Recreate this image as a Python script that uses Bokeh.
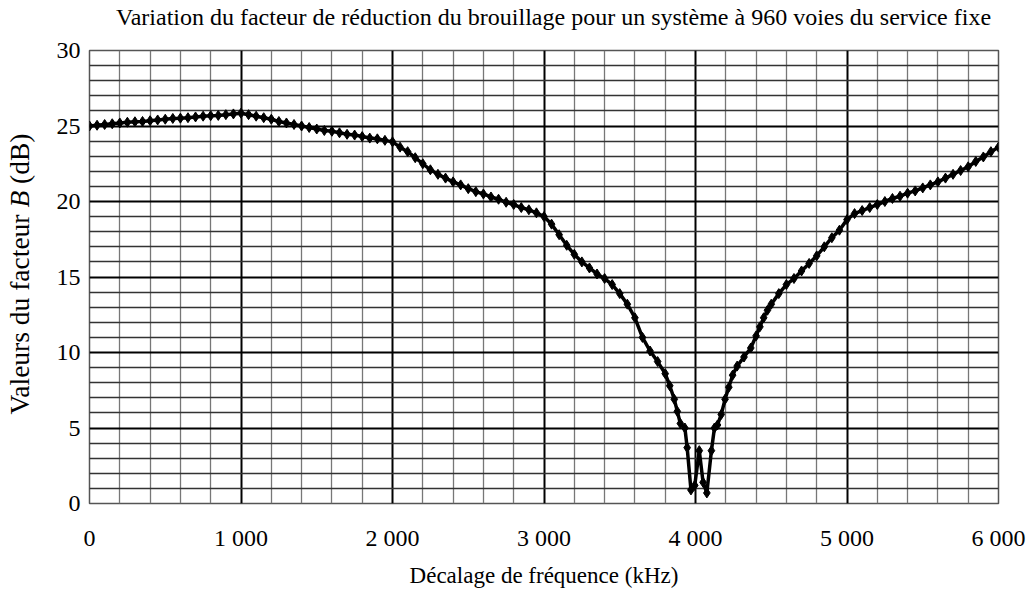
from bokeh.plotting import figure
from bokeh.models import FixedTicker, Range1d, ColumnDataSource, Div
from bokeh.layouts import column, row
from bokeh.embed import file_html
from bokeh.resources import INLINE

# Data (kHz, dB)
freq_khz = [0, 50, 100, 150, 200, 250, 300, 350, 400, 450, 500, 550, 600, 650, 700, 750, 800, 850, 900, 950,
            1000, 1050, 1100, 1150, 1200, 1250, 1300, 1350, 1400, 1450, 1500, 1550, 1600, 1650, 1700, 1750,
            1800, 1850, 1900, 1950, 2000, 2050, 2100, 2150, 2200, 2250, 2300, 2350, 2400, 2450, 2500, 2550,
            2600, 2650, 2700, 2750, 2800, 2850, 2900, 2950, 3000, 3050, 3100, 3150, 3200, 3250, 3300, 3350,
            3400, 3450, 3500, 3550, 3600, 3650, 3700, 3750, 3800, 3830, 3860, 3880, 3900, 3930, 3945, 3970,
            3995, 4025, 4050, 4075, 4105, 4125, 4145, 4170, 4195, 4220, 4245, 4275, 4320, 4365, 4400, 4425,
            4450, 4475, 4500, 4550, 4600, 4650, 4700, 4750, 4800, 4850, 4900, 4950, 5000, 5050, 5100, 5150,
            5200, 5250, 5300, 5350, 5400, 5450, 5500, 5550, 5600, 5650, 5700, 5750, 5800, 5850, 5900, 5950, 6000]
b_db = [25.0, 25.05, 25.1, 25.15, 25.2, 25.25, 25.28, 25.3, 25.35, 25.4, 25.45, 25.5, 25.52, 25.55, 25.6, 25.65,
        25.68, 25.7, 25.75, 25.8, 25.85, 25.75, 25.65, 25.55, 25.45, 25.3, 25.2, 25.1, 25.0, 24.9, 24.8, 24.7,
        24.65, 24.55, 24.45, 24.4, 24.3, 24.2, 24.15, 24.05, 23.95, 23.6, 23.3, 22.9, 22.5, 22.1, 21.8, 21.55,
        21.3, 21.1, 20.85, 20.65, 20.5, 20.3, 20.15, 19.95, 19.8, 19.6, 19.45, 19.25, 19.0, 18.5, 17.8, 17.1,
        16.5, 16.0, 15.6, 15.2, 14.9, 14.5, 13.9, 13.2, 12.3, 11.0, 10.1, 9.4, 8.6, 7.8, 6.9, 6.1, 5.3, 5.0, 3.7,
        0.9, 1.2, 3.5, 1.4, 0.7, 3.5, 5.0, 5.2, 5.9, 6.9, 7.7, 8.5, 9.1, 9.7, 10.3, 11.1, 11.7, 12.3, 12.8, 13.2,
        13.9, 14.5, 14.9, 15.4, 15.9, 16.4, 17.0, 17.6, 18.1, 18.8, 19.2, 19.4, 19.6, 19.8, 20.0, 20.2, 20.35,
        20.55, 20.7, 20.9, 21.1, 21.3, 21.55, 21.8, 22.05, 22.3, 22.65, 22.95, 23.3, 23.6]

x_major = [0, 1000, 2000, 3000, 4000, 5000, 6000]
x_labels = ["0", "1 000", "2 000", "3 000", "4 000", "5 000", "6 000"]
x_minor = [v for v in range(0, 6001, 200) if v % 1000]
y_major = [0, 5, 10, 15, 20, 25, 30]
y_minor = [v for v in range(0, 31) if v % 5]

title = "Variation du facteur de réduction du brouillage pour un système à 960 voies du service fixe"
x_title = "Décalage de fréquence (kHz)"
y_title_html = "Valeurs du facteur <i>B</i> (dB)"

FONT = "Liberation Serif"
W = 1028
TITLE_H = 34
YLAB_W = 40
H = 594 - TITLE_H

title_div = Div(
    text=('<div style="padding-left:116px;font-family:\'Liberation Serif\';'
          'font-size:24px;line-height:34px;color:black;white-space:nowrap;">' + title + '</div>'),
    width=W, height=TITLE_H, margin=(0, 0, 0, 0))

ylab_div = Div(
    text=('<div style="position:absolute;left:20px;top:240px;transform:translate(-50%,-50%) rotate(-90deg);'
          'font-family:\'Liberation Serif\';font-size:27.5px;line-height:30px;color:black;white-space:nowrap;">'
          + y_title_html + '</div>'),
    width=YLAB_W, height=H, margin=(0, 0, 0, 0))

p = figure(width=W - YLAB_W, height=H, x_range=Range1d(0, 6000), y_range=Range1d(0, 30),
           output_backend="svg", toolbar_location=None, margin=(0, 0, 0, 0),
           min_border_left=89 - YLAB_W, min_border_right=30, min_border_top=50 - TITLE_H, min_border_bottom=91)
p.background_fill_color = "white"
p.border_fill_color = "white"
p.outline_line_color = "#555555"
p.outline_line_width = 1.5

# grids
p.xgrid.ticker = FixedTicker(ticks=x_major, minor_ticks=x_minor)
p.ygrid.ticker = FixedTicker(ticks=y_major, minor_ticks=y_minor)
for g in (p.xgrid, p.ygrid):
    g.grid_line_color = "black"
    g.grid_line_width = 2
    g.grid_line_alpha = 1
p.xgrid.minor_grid_line_color = "#777777"
p.xgrid.minor_grid_line_width = 1.3
p.ygrid.minor_grid_line_color = "#333333"
p.ygrid.minor_grid_line_width = 1.3

# axes
p.xaxis.ticker = FixedTicker(ticks=x_major)
p.xaxis.major_label_overrides = {v: s for v, s in zip(x_major, x_labels)}
p.yaxis.ticker = FixedTicker(ticks=y_major)
for ax in (p.xaxis, p.yaxis):
    ax.axis_line_color = None
    ax.major_tick_line_color = None
    ax.minor_tick_line_color = None
    ax.major_tick_out = 0
    ax.major_tick_in = 0
    ax.major_label_text_font = FONT
    ax.major_label_text_font_size = "24px"
    ax.major_label_text_color = "black"
    ax.axis_label_text_font = FONT
    ax.axis_label_text_font_style = "normal"
    ax.axis_label_text_color = "black"
p.xaxis.axis_label_text_font_size = "23px"
p.xaxis.major_label_standoff = 21
p.yaxis.major_label_standoff = 9
p.xaxis.axis_label = x_title
p.xaxis.axis_label_standoff = 9

src = ColumnDataSource(dict(x=freq_khz, y=b_db))
p.line("x", "y", source=src, line_color="black", line_width=3.5)
p.scatter("x", "y", source=src, marker="diamond", size=10, fill_color="black", line_color="black")

layout = column(title_div, row(ylab_div, p, spacing=0), spacing=0)
open("out.html", "w").write(file_html(layout, INLINE))
